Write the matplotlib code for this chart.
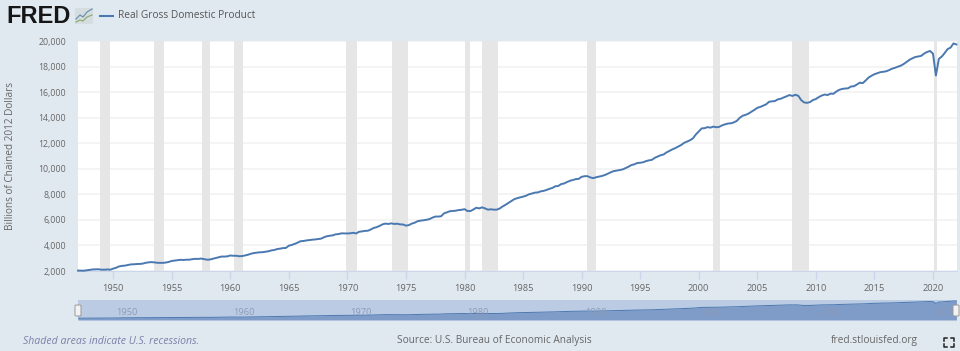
import numpy as np
from matplotlib import pyplot as plt
from matplotlib.lines import Line2D
from matplotlib.patches import FancyBboxPatch, Rectangle

plt.rcParams['font.family'] = ['Open Sans', 'DejaVu Sans']

W, H = 960, 351

# quarterly values, 1947 Q1 to 2022 Q1
gdp = [
    2033, 2028, 2023, 2055, 2086, 2120, 2132, 2135, 2105, 2099, 2121, 2103,
    2184, 2252, 2357, 2399, 2420, 2466, 2515, 2524, 2545, 2553, 2572, 2635,
    2675, 2694, 2679, 2642, 2639, 2637, 2662, 2710, 2786, 2818, 2848, 2876,
    2863, 2882, 2885, 2923, 2951, 2944, 2973, 2934, 2885, 2895, 2955, 3020,
    3070, 3131, 3128, 3147, 3214, 3191, 3194, 3155, 3168, 3214, 3270, 3345,
    3403, 3433, 3464, 3470, 3505, 3542, 3610, 3641, 3714, 3749, 3793, 3805,
    3980, 4040, 4120, 4220, 4330, 4350, 4390, 4420, 4450, 4470, 4500, 4530,
    4640, 4720, 4760, 4790, 4870, 4890, 4950, 4940, 4940, 4950, 4990, 4940,
    5070, 5100, 5140, 5150, 5250, 5370, 5430, 5530, 5650, 5710, 5680, 5730,
    5680, 5700, 5650, 5640, 5550, 5590, 5710, 5780, 5900, 5940, 5970, 6010,
    6060, 6170, 6260, 6260, 6280, 6510, 6590, 6680, 6700, 6720, 6770, 6790,
    6840, 6700, 6690, 6810, 6950, 6900, 6980, 6900, 6800, 6830, 6800, 6800,
    6890, 7050, 7180, 7330, 7480, 7620, 7700, 7760, 7820, 7890, 8000, 8060,
    8130, 8150, 8230, 8270, 8340, 8430, 8500, 8630, 8650, 8800, 8850, 8960,
    9060, 9120, 9190, 9210, 9370, 9420, 9420, 9320, 9270, 9340, 9390, 9440,
    9520, 9620, 9730, 9820, 9860, 9900, 9950, 10050, 10160, 10290, 10350, 10450,
    10470, 10510, 10600, 10660, 10700, 10860, 10960, 11060, 11120, 11280, 11400, 11520,
    11620, 11740, 11860, 12030, 12130, 12230, 12380, 12680, 12920, 13160, 13180, 13260,
    13220, 13300, 13250, 13280, 13400, 13480, 13540, 13560, 13630, 13750, 13990, 14150,
    14220, 14320, 14460, 14610, 14770, 14840, 14940, 15040, 15240, 15280, 15300, 15430,
    15480, 15580, 15670, 15770, 15700, 15790, 15710, 15370, 15190, 15160, 15220, 15380,
    15460, 15610, 15730, 15810, 15770, 15880, 15870, 16050, 16180, 16250, 16280, 16300,
    16440, 16460, 16590, 16740, 16700, 16910, 17140, 17280, 17400, 17480, 17560, 17590,
    17630, 17720, 17830, 17900, 17990, 18070, 18200, 18370, 18530, 18650, 18750, 18790,
    18840, 19020, 19140, 19220, 19010, 17300, 18600, 18780, 19060, 19370, 19480, 19810,
    19730,
]
years = [1947 + i / 4 for i in range(len(gdp))]

recessions = [
    (1948.85, 1949.75), (1953.5, 1954.35), (1957.6, 1958.25), (1960.3, 1961.05),
    (1969.9, 1970.8), (1973.8, 1975.15), (1980.0, 1980.5), (1981.5, 1982.85),
    (1990.5, 1991.2), (2001.2, 2001.85), (2007.95, 2009.4), (2020.1, 2020.3),
]
y_ticks = [2000, 4000, 6000, 8000, 10000, 12000, 14000, 16000, 18000, 20000]
x_ticks = [1950, 1955, 1960, 1965, 1970, 1975, 1980, 1985, 1990, 1995, 2000, 2005, 2010, 2015, 2020]
nav_ticks = [1950, 1960, 1970, 1980, 1990, 2000, 2010, 2020]

BG = '#e1e9f0'
LINE = '#4a78b0'
TXT = '#666666'


def box(x0, y0, x1, y1):
    return [x0 / W, 1 - y1 / H, (x1 - x0) / W, (y1 - y0) / H]


def ftext(x, y, s, **kw):
    kw.setdefault('va', 'center')
    fig.text(x / W, 1 - y / H, s, **kw)


def fline(xs, ys, **kw):
    fig.add_artist(Line2D([x / W for x in xs], [1 - y / H for y in ys], **kw))


fig = plt.figure(figsize=(9.6, 3.51), dpi=100, facecolor=BG)

# main chart
ax = fig.add_axes(box(78, 41, 957, 271))
ax.set_xlim(1947.0, 2022.05)
ax.set_ylim(2000, 20000)
ax.grid(axis='y', color='#f2f2f2', lw=1.2)
ax.set_axisbelow(True)
for start, end in recessions:
    ax.axvspan(start, end, color='#e6e6e6', lw=0, zorder=1)
ax.plot(years, gdp, color=LINE, lw=1.4, zorder=3, clip_on=False)
ax.set_xticks(x_ticks)
ax.set_yticks(y_ticks)
ax.set_yticklabels(['{:,}'.format(v) for v in y_ticks])
ax.tick_params(axis='y', length=0, pad=8.5, labelsize=6.3, labelcolor=TXT)
ax.tick_params(axis='x', length=6, width=1, color='#ccd6eb', pad=3.5, labelsize=6.7, labelcolor=TXT)
for side in ['top', 'left', 'right']:
    ax.spines[side].set_visible(False)
ax.spines['bottom'].set_color('#ccd6eb')
ax.set_ylabel('Billions of Chained 2012 Dollars', fontsize=7.2, color=TXT)
ax.yaxis.set_label_coords(-62 / 879, 0.5)

# navigator under the chart
nav = fig.add_axes(box(78, 300, 957, 320))
nav.set_facecolor('#bccbe4')
nav.set_xlim(1947.0, 2022.05)
nav.set_ylim(170, 20800)
nav.fill_between(years, gdp, 170, color='#7f9bc8', lw=0)
nav.plot(years, gdp, color=LINE, lw=0.7)
nav.set_xticks([])
nav.set_yticks([])
for side in nav.spines:
    nav.spines[side].set_visible(False)
for year in nav_ticks:
    nav.annotate(str(year), (year, 0), xycoords=('data', 'axes fraction'), xytext=(10, 2.5),
                 textcoords='offset points', ha='center', va='bottom', fontsize=6.7,
                 color='#8c9cba', clip_on=True, annotation_clip=False).set_clip_path(nav.patch)

# navigator handles
for hx in [78, 956]:
    fig.add_artist(FancyBboxPatch(((hx - 3) / W, 1 - 316 / H), 6 / W, 11 / H,
                                  boxstyle='round,pad=0,rounding_size=0.002', transform=fig.transFigure,
                                  facecolor='#f2f2f2', edgecolor='#999999', lw=0.7))

# header
ftext(6, 16.5, 'FRED', fontsize=17, fontweight='bold', color='#161616', family=['Liberation Sans'],
      stretch='expanded')
fig.add_artist(Rectangle((75 / W, 1 - 24 / H), 18 / W, 16 / H, transform=fig.transFigure,
                         facecolor='#d5dde0', edgecolor='none'))
fline([76, 80, 83, 87, 92], [19, 15, 17, 12, 9], color='#6d92b0', lw=0.9)
fline([76, 80, 83, 87, 92], [22, 20, 21, 17, 15], color='#8fae72', lw=0.9)
fline([100, 113], [16, 16], color=LINE, lw=1.5)
ftext(118, 16, 'Real Gross Domestic Product', fontsize=7.25, color='#555555')

# footer
ftext(23, 341, 'Shaded areas indicate U.S. recessions.', fontsize=7.6, style='italic', color='#7a80a8')
ftext(494, 341, 'Source: U.S. Bureau of Economic Analysis', fontsize=7.3, color=TXT, ha='center')
ftext(918, 341, 'fred.stlouisfed.org', fontsize=7.3, color=TXT, ha='right')

# fullscreen icon
for cx, cy, dx, dy in [(944, 338, 1, 1), (954, 338, -1, 1), (944, 347, 1, -1), (954, 347, -1, -1)]:
    fline([cx + 3 * dx, cx, cx], [cy, cy, cy + 3 * dy], color='#222222', lw=1.1)

plt.savefig('out.png', dpi=100, facecolor=BG)
